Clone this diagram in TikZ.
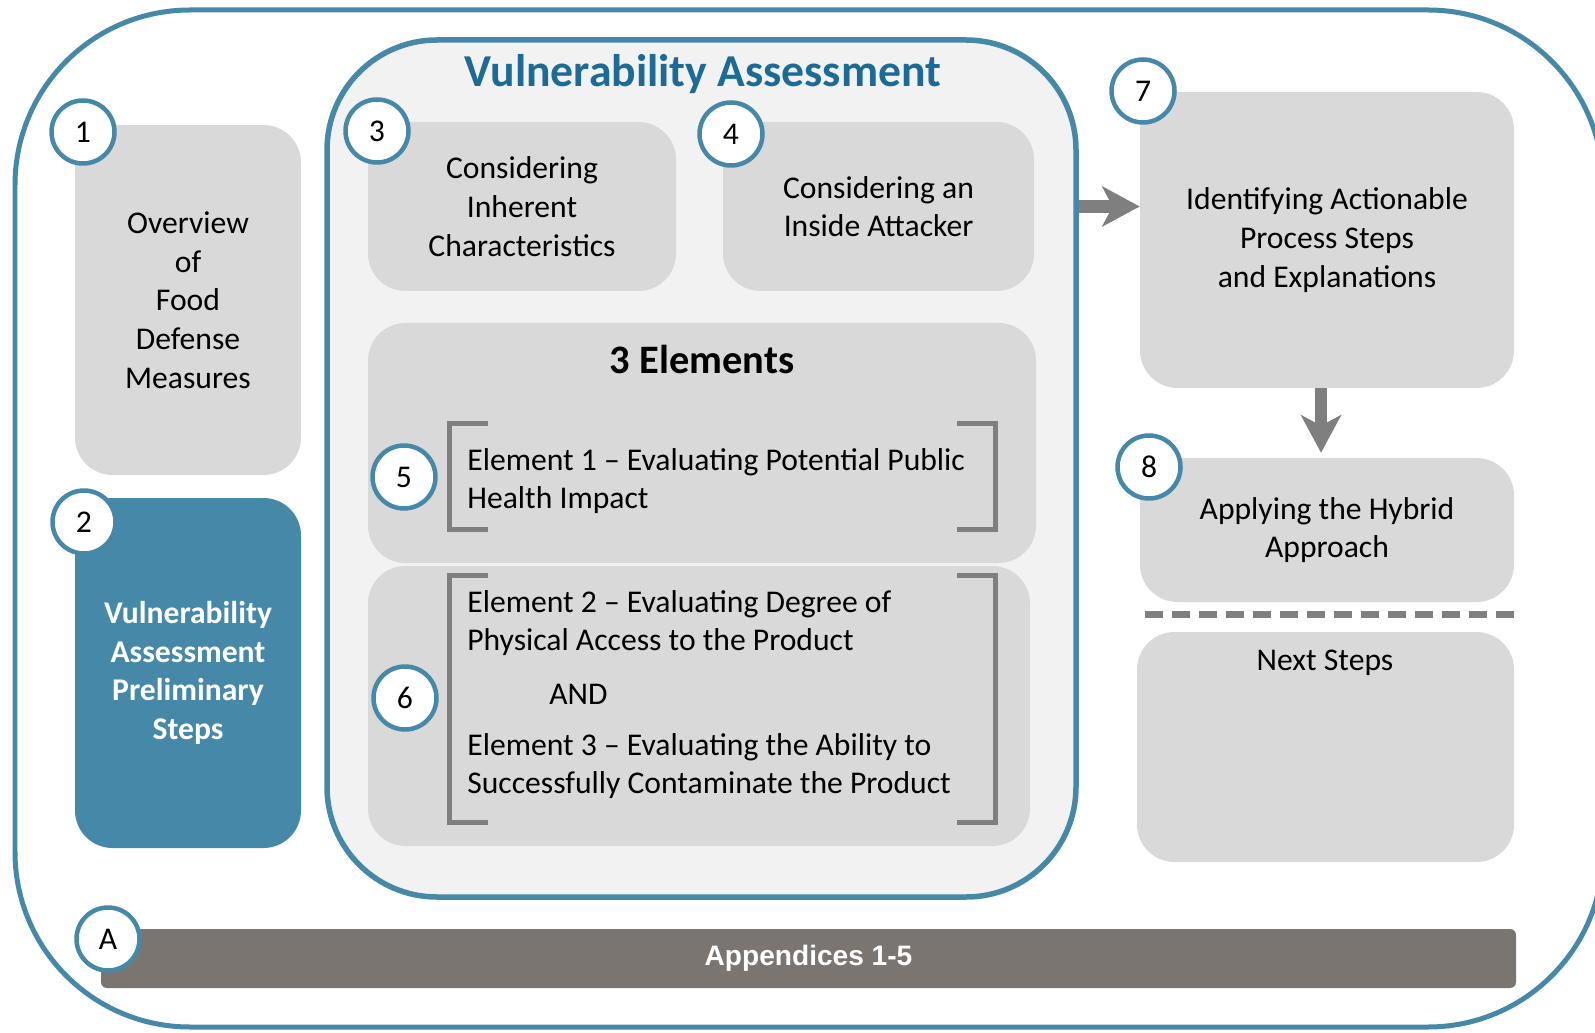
\documentclass[tikz,border=0pt]{standalone}
\usepackage{fontspec}
\setmainfont{Carlito}
\newfontfamily\arialfont{Liberation Sans}
\usetikzlibrary{arrows.meta, positioning, fit}
\definecolor{FDBlue}{RGB}{69,136,167}
\definecolor{FDTitle}{RGB}{28,106,150}
\definecolor{FDGray}{RGB}{217,217,217}
\definecolor{FDPale}{RGB}{242,242,242}
\definecolor{FDArrow}{RGB}{127,127,127}
\definecolor{FDBar}{RGB}{123,117,114}
\newcommand{\boxfont}{\fontsize{18}{22}\selectfont}

\begin{document}
\begin{tikzpicture}[x=0.02cm, y=-0.02cm,
    box/.style={fill=FDGray, rounded corners=0.75cm, inner sep=0pt},
    txt/.style={align=center, inner sep=0pt, font=\boxfont},
    num/.style={circle, draw=FDBlue, line width=0.09cm, fill=white,
                minimum size=1.26cm, inner sep=0pt, font=\boxfont},
    eltext/.style={anchor=west, align=left, inner sep=0pt, font=\boxfont},
    fatarrow/.style={draw=FDArrow, line width=0.25cm,
                -{Stealth[length=0.76cm, width=0.82cm, inset=0.22cm, line width=0pt]}},
    bracket/.style={draw=FDArrow, line width=0.1cm}]
        \useasboundingbox (0,0) rectangle (1595,1033);
        % outer frame
        \draw[FDBlue, line width=0.1cm, rounded corners=3.5cm]
              (15,10) rectangle (1603,1027);
        % appendices bar
        \node[fill=FDBar, rounded corners=0.12cm, inner sep=0pt,
              fit={(101,929) (1516,988)}] (app) {};
        \node[txt, font=\arialfont\fontsize{16}{19}\selectfont\bfseries, text=white]
             (appt) at (app) {Appendices 1-5};
        % left column
        \node[box, fit={(75,125) (301,475)}] (b1) {};
        \node[txt] (b1t) at (b1) {Overview\\of\\Food\\Defense\\Measures};
        \node[box, fill=FDBlue, fit={(75,498) (301,848)}] (b2) {};
        \node[txt, text=white, font=\boxfont\bfseries] (b2t) at (b2)
             {Vulnerability\\Assessment\\Preliminary\\Steps};
        % vulnerability assessment
        \node[fill=FDPale, draw=FDBlue, line width=0.11cm, rounded corners=2.2cm,
              inner sep=0pt, fit={(327,40) (1076,897)}] (va) {};
        \node[font=\fontsize{26}{30}\selectfont\bfseries, text=FDTitle]
             (vat) at (703,74) {Vulnerability Assessment};
        \node[box, fit={(368,122) (676,291)}] (b3) {};
        \node[txt] (b3t) at (b3) {Considering\\Inherent\\Characteristics};
        \node[box, fit={(723,122) (1034,291)}] (b4) {};
        \node[txt] (b4t) at (b4) {Considering an\\Inside Attacker};
        \node[box, fit={(368,323) (1036,563)}] (b5) {};
        \node[box, fit={(368,566) (1030,846)}] (b6) {};
        \node[font=\fontsize{23}{27}\selectfont\bfseries] (elt) at (702,359) {3 Elements};
        \node[eltext] (t1) at (467,481)
             {Element 1 -- Evaluating Potential Public\\Health Impact};
        \node[eltext] (t2) at (467,623)
             {Element 2 -- Evaluating Degree of\\Physical Access to the Product};
        \node[eltext] (tand) at (549,694) {AND};
        \node[eltext] (t3) at (467,766)
             {Element 3 -- Evaluating the Ability to\\Successfully Contaminate the Product};
        \draw[bracket] (488,424) -| (449,529) -- (488,529);
        \draw[bracket] (957,424) -| (995,529) -- (957,529);
        \draw[bracket] (488,575) -| (449,822) -- (488,822);
        \draw[bracket] (957,575) -| (995,822) -- (957,822);
        % right column
        \node[box, fit={(1140,92) (1514,388)}] (b7) {};
        \node[txt] (b7t) at (b7) {Identifying Actionable\\Process Steps\\and Explanations};
        \node[box, fit={(1140,458) (1514,602)}] (b8) {};
        \node[txt] (b8t) at (b8) {Applying the Hybrid\\Approach};
        \node[box, fit={(1137,632) (1514,862)}] (bn) {};
        \node[txt] (bnt) at (1325,663) {Next Steps};
        \draw[FDArrow, line width=0.14cm, dash pattern=on 0.36cm off 0.18cm]
              (1145,614) -- (1516,614);
        \draw[fatarrow] (va.east |- b4.east) -- (b7.west |- b4.east);
        \draw[fatarrow, shorten >=0.1cm]
              ([xshift=-0.12cm]b7.south) -- ([xshift=-0.12cm]b8.north);
        % step numbers
        \node[num] (c1) at (83,132)  {1};
        \node[num] (c2) at (84,522)  {2};
        \node[num] (c3) at (377,131) {3};
        \node[num] (c4) at (731,134) {4};
        \node[num] (c5) at (404,477) {5};
        \node[num] (c6) at (405,698) {6};
        \node[num] (c7) at (1143,91) {7};
        \node[num] (c8) at (1149,467) {8};
        \node[num] (cA) at (108,939) {A};
\end{tikzpicture}
\end{document}
